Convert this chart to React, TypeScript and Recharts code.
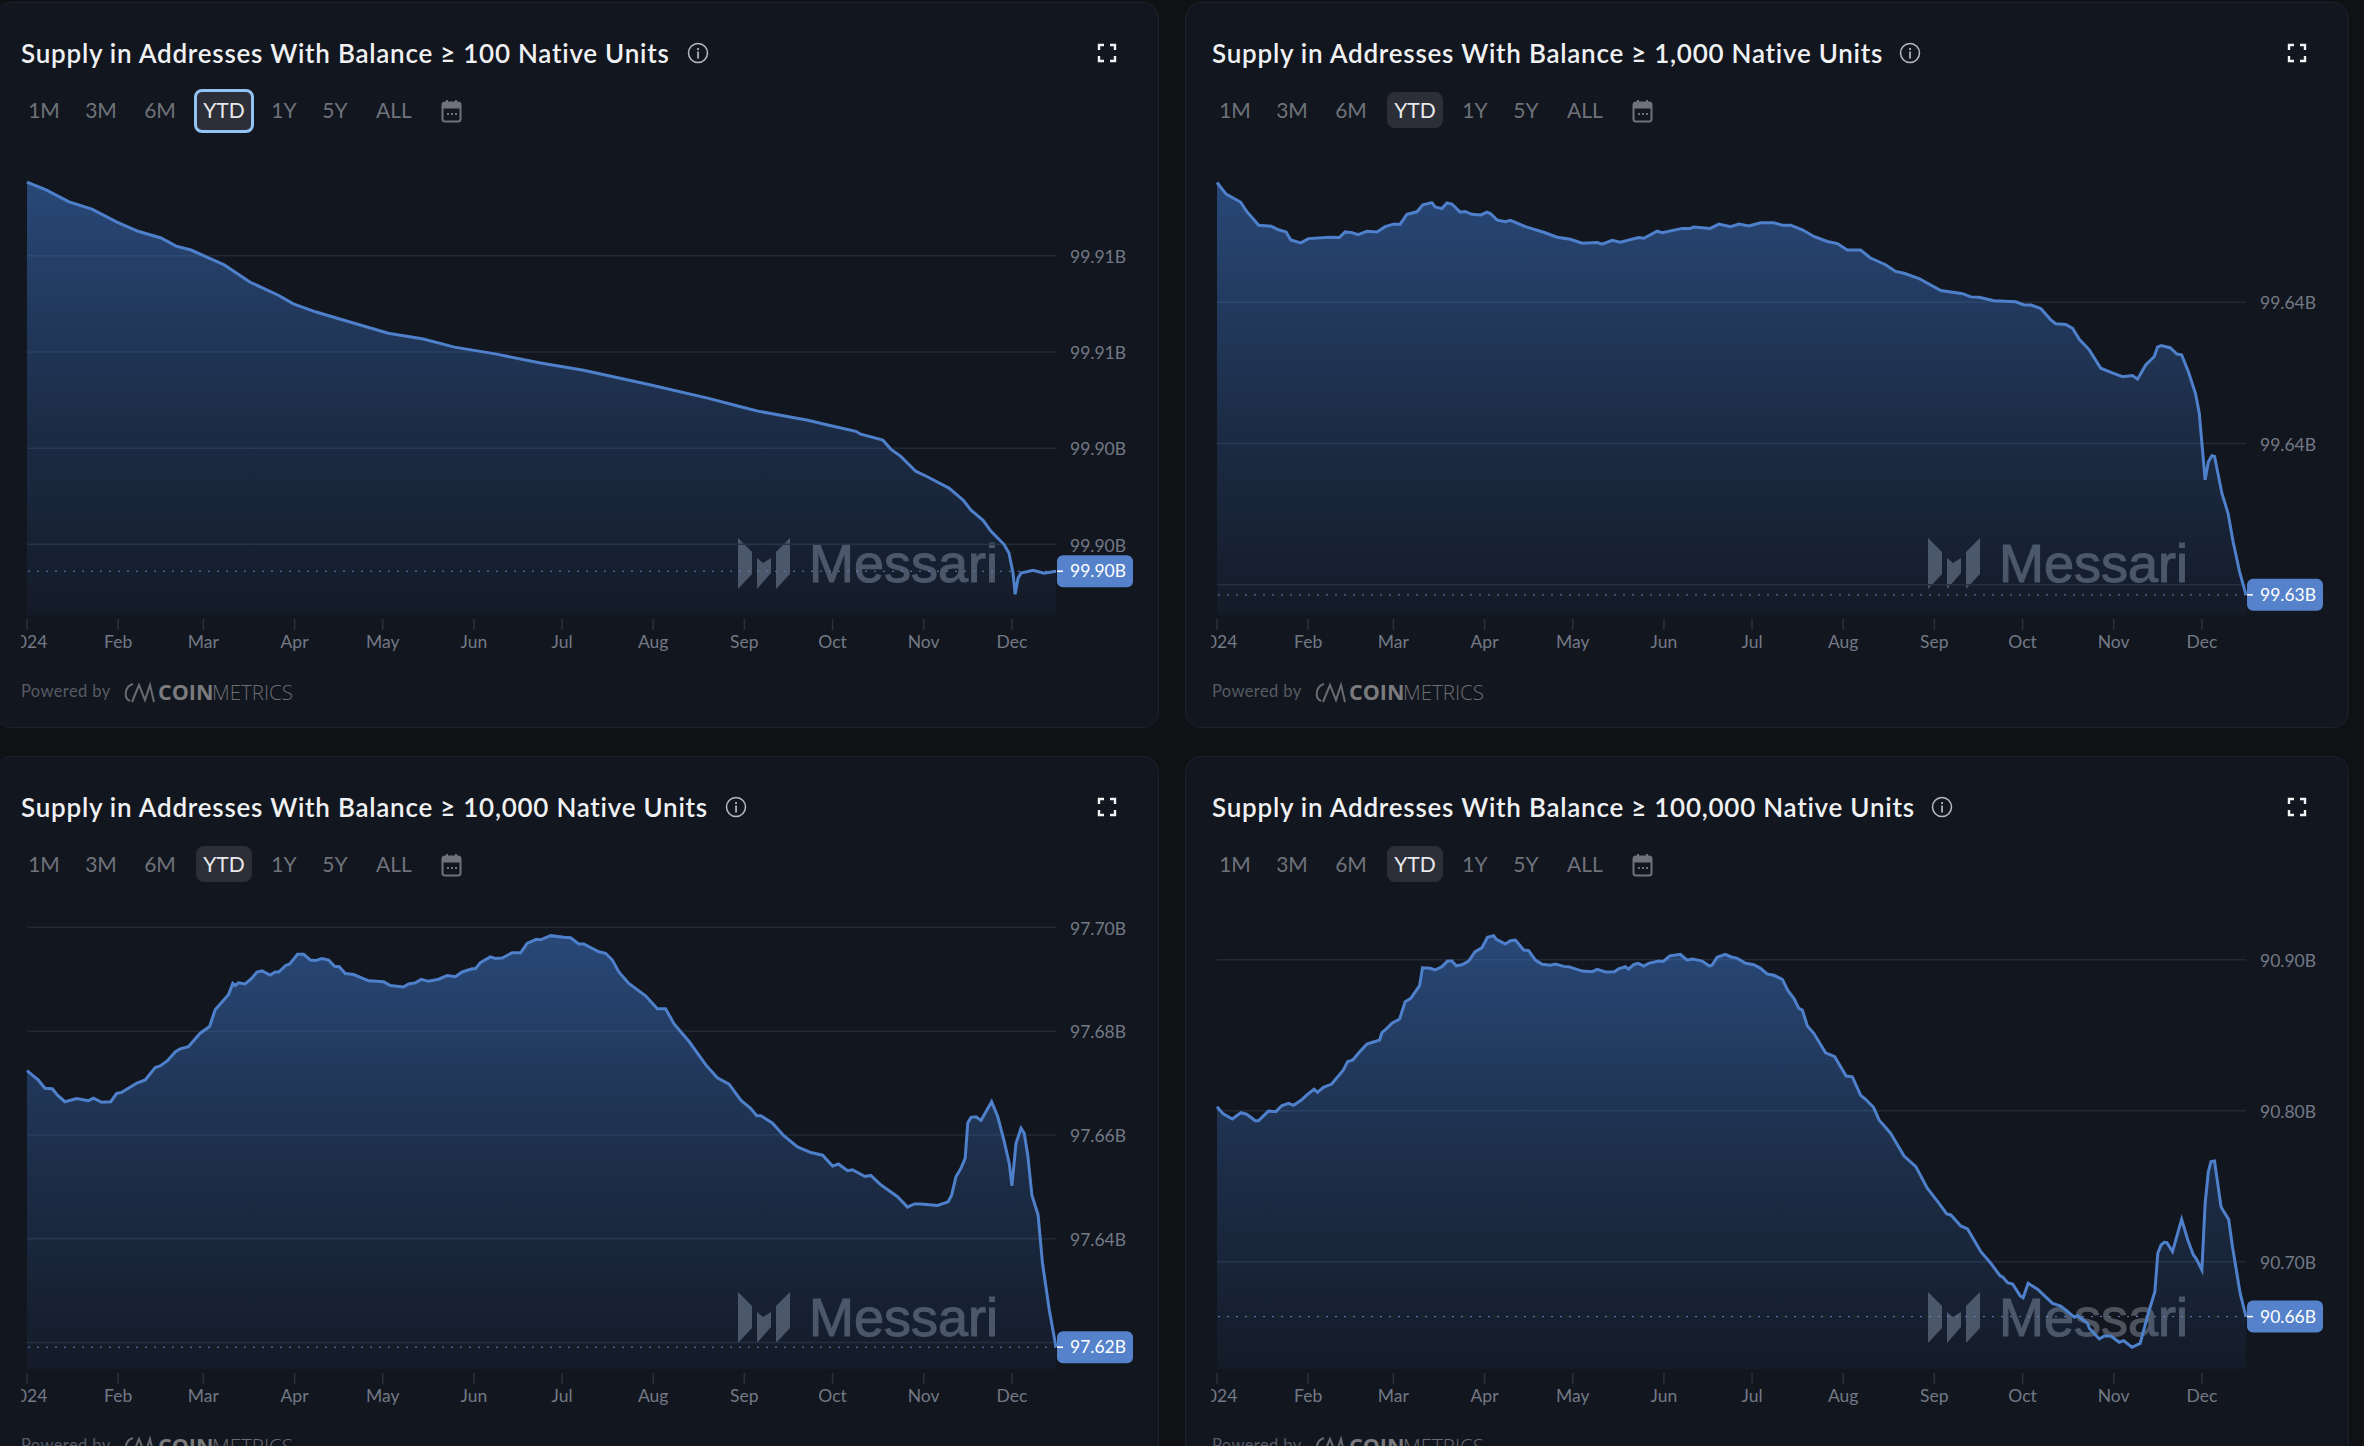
import React from 'react';
import {
  AreaChart,
  Area,
  XAxis,
  YAxis,
  CartesianGrid,
  ReferenceLine,
} from 'recharts';

const monthTicks = [0, 31, 60, 91, 121, 152, 182, 213, 244, 274, 305, 335];
const monthLabels = ['2024', 'Feb', 'Mar', 'Apr', 'May', 'Jun', 'Jul', 'Aug', 'Sep', 'Oct', 'Nov', 'Dec'];
const rangeButtons = ['1M', '3M', '6M', 'YTD', '1Y', '5Y', 'ALL'];
const rangeCenters = [44, 101, 160, 224, 284, 335, 394];

const days100 = [0, 6.5, 14.3, 22.1, 30.6, 37.8, 45.6, 50.7, 55.8, 67.1, 75.9, 85.5, 90.6, 98.4, 105.5, 122.9, 134.8, 145.4, 159.3, 174.7, 189.3, 211.1, 231.5, 242.1, 248.6, 254, 265.6, 272.4, 281.9, 283.6, 291.1, 293.8, 297.2, 302.3, 306.4, 313.6, 318.4, 321.1, 325.2, 327.9, 332.3, 334, 335.4, 336.1, 337.1, 338.1, 342.2, 345.9, 350];
const supply100 = [99.90953, 99.90937, 99.90912, 99.90897, 99.9087, 99.90851, 99.90837, 99.9082, 99.90812, 99.90781, 99.90745, 99.90718, 99.907, 99.90683, 99.9067, 99.90639, 99.90627, 99.9061, 99.90596, 99.90577, 99.90562, 99.90533, 99.90504, 99.90487, 99.90477, 99.90471, 99.90458, 99.90448, 99.90435, 99.90429, 99.90417, 99.90398, 99.90383, 99.90352, 99.9034, 99.90317, 99.90292, 99.90271, 99.9025, 99.90227, 99.902, 99.90182, 99.9014, 99.90096, 99.9013, 99.9014, 99.90146, 99.9014, 99.90144];

const days1k = [0, 3.1, 8.1, 10.1, 14.2, 18.4, 20.9, 23.5, 25.1, 28.5, 31.1, 38.4, 41.6, 43.6, 45.9, 48.1, 51, 54.4, 57.2, 60, 62.3, 64.6, 68, 70, 73.1, 74.2, 76.5, 78.2, 79.9, 82.7, 84.4, 86.7, 89.8, 91.8, 93, 95.2, 98, 99.8, 104.9, 111.1, 115.7, 120.2, 124.2, 129.3, 131, 134.4, 137.2, 143.4, 145.2, 149.7, 151.4, 158.2, 161, 162.2, 167.8, 170.7, 174.7, 177.5, 180.9, 184.9, 189.4, 192.3, 195.1, 199.1, 203, 207.6, 211, 214.4, 218.9, 222.3, 227.4, 230.8, 233.7, 238.8, 246.2, 253.6, 256.4, 259.2, 264.3, 271.7, 274.5, 276.8, 280.2, 283.6, 285.3, 288.7, 291, 293.3, 296.7, 300.6, 304.1, 308, 311.4, 313.1, 315.9, 318.8, 319.9, 321.1, 324.2, 326.5, 328.1, 330.4, 332.8, 334.1, 335.3, 336.1, 337.2, 338.4, 339.3, 341.8, 343.9, 345.6, 347.8, 350];
const supply1k = [99.64339, 99.64306, 99.64283, 99.64257, 99.64218, 99.64215, 99.64205, 99.64199, 99.64176, 99.64168, 99.6418, 99.64184, 99.64183, 99.64199, 99.64197, 99.64191, 99.64201, 99.64199, 99.64214, 99.64221, 99.64221, 99.64249, 99.64256, 99.64276, 99.64282, 99.6427, 99.64265, 99.64281, 99.64278, 99.64255, 99.64257, 99.64249, 99.64247, 99.64255, 99.64251, 99.64233, 99.64228, 99.64232, 99.64214, 99.64198, 99.64184, 99.64178, 99.64167, 99.64169, 99.64164, 99.64175, 99.6417, 99.64183, 99.64181, 99.64201, 99.64197, 99.64209, 99.64209, 99.64213, 99.64209, 99.64221, 99.64214, 99.64221, 99.64216, 99.64225, 99.64225, 99.64218, 99.64218, 99.64205, 99.64186, 99.64172, 99.64166, 99.64148, 99.64148, 99.64125, 99.64106, 99.64087, 99.64082, 99.64067, 99.64033, 99.64024, 99.64015, 99.64014, 99.64004, 99.64001, 99.63992, 99.63992, 99.63982, 99.6395, 99.63939, 99.63937, 99.63926, 99.63895, 99.63865, 99.63813, 99.63801, 99.63789, 99.63792, 99.63782, 99.63822, 99.63846, 99.63873, 99.63877, 99.63871, 99.63853, 99.63851, 99.63803, 99.63742, 99.63686, 99.63572, 99.63497, 99.63548, 99.63565, 99.63563, 99.63459, 99.63402, 99.63322, 99.63237, 99.63171];

const days10k = [0, 2.1, 3.8, 6.1, 8.6, 10.3, 12.9, 16.9, 20.9, 22.6, 25.4, 28.5, 30.5, 32.2, 37.4, 40.2, 43.6, 45.3, 47.8, 50.4, 52.1, 54.9, 58.9, 62.1, 64, 68.5, 70, 70.8, 71.9, 74.2, 76.5, 78.2, 79.9, 82.7, 84.4, 85.6, 88.1, 89.3, 92, 94.1, 96.4, 98.1, 100.3, 102.6, 104.6, 106.2, 108.3, 111.1, 116.2, 121.3, 123.6, 128.1, 129.8, 132.1, 134.1, 136.6, 140, 142.9, 145.7, 148, 151.4, 152.5, 154.2, 157.6, 159.3, 161.6, 165, 167.9, 170.1, 173.2, 174.7, 178.1, 182.6, 184.9, 187.7, 189.4, 194.5, 196.8, 199.1, 201.3, 204.7, 210.4, 214.4, 217.2, 220.1, 225.2, 230.9, 234.8, 238.8, 242.8, 246.2, 248.2, 249.6, 253.5, 257.5, 262.1, 266.6, 270.6, 274, 276, 279.1, 280.8, 285, 287, 290.4, 296.1, 299.5, 301.8, 304, 309.7, 313.3, 314.5, 316, 317.7, 319.1, 320, 321.1, 322.8, 324.5, 328.1, 330.2, 332.4, 334.1, 335, 336.4, 338.1, 339.2, 340.4, 341.8, 343.9, 345.4, 347.7, 350];
const supply10k = [97.6724, 97.6714, 97.6706, 97.669, 97.6689, 97.6677, 97.6664, 97.667, 97.6666, 97.6671, 97.6663, 97.6664, 97.668, 97.6682, 97.67, 97.6706, 97.673, 97.6733, 97.6743, 97.676, 97.6766, 97.677, 97.6796, 97.6809, 97.6841, 97.687, 97.6892, 97.6888, 97.6893, 97.6891, 97.6902, 97.6914, 97.6916, 97.6908, 97.6914, 97.6914, 97.6927, 97.6929, 97.6948, 97.6948, 97.6937, 97.6936, 97.694, 97.6937, 97.6925, 97.6924, 97.6911, 97.6909, 97.6897, 97.6895, 97.6888, 97.6885, 97.6891, 97.6893, 97.69, 97.6896, 97.69, 97.6907, 97.6905, 97.6914, 97.692, 97.692, 97.6932, 97.6943, 97.694, 97.6941, 97.6951, 97.6951, 97.6969, 97.6977, 97.6976, 97.6984, 97.6981, 97.698, 97.6968, 97.6968, 97.6953, 97.695, 97.6937, 97.6914, 97.6892, 97.6868, 97.6843, 97.6843, 97.6814, 97.678, 97.6735, 97.671, 97.6698, 97.6667, 97.6651, 97.6637, 97.6637, 97.6623, 97.6598, 97.6577, 97.6566, 97.6561, 97.654, 97.6544, 97.6531, 97.6533, 97.652, 97.6522, 97.6504, 97.6481, 97.6461, 97.6467, 97.6467, 97.6464, 97.6471, 97.6484, 97.652, 97.6536, 97.6555, 97.6623, 97.6634, 97.6635, 97.6628, 97.6664, 97.6635, 97.6587, 97.6545, 97.6502, 97.6584, 97.6613, 97.6603, 97.6561, 97.6484, 97.6446, 97.6353, 97.6263, 97.6191];

const days100k = [0, 2.1, 5.2, 8.1, 10.1, 13, 14.1, 17.5, 20, 22, 24.3, 26, 28.5, 30.5, 33, 34.2, 36.2, 39, 43, 44.4, 46.2, 48.1, 51, 53.2, 55.3, 56.1, 57.2, 59.5, 62.1, 64, 65.9, 68.9, 69.9, 72.5, 74.2, 76.5, 78.4, 79.9, 81.4, 83.3, 85.6, 87.8, 90.1, 92, 94.1, 95, 98.1, 99.8, 101.5, 104.3, 106, 108.3, 110.6, 113.4, 115.1, 117.9, 119.6, 124.2, 127.6, 129.3, 132.1, 135.2, 136.6, 138.9, 140, 141.7, 143.2, 145.2, 146.8, 150.3, 151.8, 154, 157.6, 159.9, 161.8, 165, 167.5, 168.4, 170.1, 172.9, 174.7, 177, 179.8, 182.6, 184.9, 187.2, 189.4, 192.3, 194.2, 196.2, 197.9, 199.1, 200.8, 203, 207, 210.1, 214, 216.1, 218.9, 220.6, 223.3, 225.2, 229.1, 233.7, 237.7, 241.6, 245.6, 248.2, 249.6, 253, 255.3, 259.8, 263.2, 266.4, 267.2, 268.9, 270.6, 273.2, 274.2, 275.9, 279.1, 284.2, 287, 291.6, 292.7, 296.1, 296.7, 300.1, 301.8, 304, 306.9, 308.4, 311.2, 314, 315.4, 317.1, 319, 320, 321.1, 322.2, 323.1, 325, 328.1, 330.2, 332.1, 333, 335, 336.1, 337.2, 338.1, 339.3, 341.5, 342.1, 344.1, 345.4, 348, 350];
const supply100k = [90.8027, 90.7979, 90.7945, 90.7987, 90.7977, 90.7934, 90.7934, 90.7998, 90.7994, 90.8033, 90.8049, 90.8036, 90.8067, 90.8104, 90.8142, 90.8122, 90.8155, 90.8177, 90.827, 90.8325, 90.8336, 90.838, 90.8442, 90.8455, 90.8468, 90.8517, 90.8535, 90.8579, 90.8607, 90.8722, 90.8744, 90.8828, 90.8947, 90.8943, 90.8932, 90.8954, 90.8991, 90.8991, 90.896, 90.8967, 90.8991, 90.9053, 90.9079, 90.9148, 90.9159, 90.9135, 90.9104, 90.9126, 90.913, 90.9064, 90.906, 90.8998, 90.897, 90.8963, 90.8972, 90.8956, 90.8954, 90.8925, 90.8921, 90.8936, 90.8919, 90.8921, 90.894, 90.8954, 90.8938, 90.8967, 90.8976, 90.8958, 90.8976, 90.8991, 90.8989, 90.9026, 90.9036, 90.8998, 90.9005, 90.8991, 90.8958, 90.8965, 90.9016, 90.9036, 90.902, 90.9009, 90.8976, 90.8967, 90.8943, 90.8905, 90.8897, 90.887, 90.8795, 90.8744, 90.8678, 90.8667, 90.8561, 90.8513, 90.8384, 90.8358, 90.823, 90.8225, 90.8104, 90.8076, 90.8023, 90.7939, 90.7851, 90.77, 90.763, 90.7487, 90.7387, 90.7317, 90.731, 90.7237, 90.7217, 90.7067, 90.699, 90.6906, 90.6901, 90.6862, 90.6853, 90.6774, 90.6762, 90.6858, 90.6818, 90.6725, 90.6707, 90.6633, 90.6643, 90.6593, 90.656, 90.6489, 90.6509, 90.6509, 90.6467, 90.6478, 90.6434, 90.646, 90.656, 90.6681, 90.6802, 90.7056, 90.7111, 90.7129, 90.7127, 90.7067, 90.7281, 90.7144, 90.7045, 90.7023, 90.6946, 90.7387, 90.7597, 90.7663, 90.7667, 90.7365, 90.7343, 90.7281, 90.71, 90.6792, 90.6637];

const FONT = 'Lato, sans-serif';
const LINE = '#4f80cb';

const toRows = (days: number[], values: number[]) => days.map((day, i) => ({ day, value: values[i] }));

const MonthTick = ({ x, y, index }: any) => (
  <g>
    <line x1={x} x2={x} y1={y + 4} y2={y + 15} stroke="#2b313c" strokeWidth={1.5} />
    <text x={x} y={y + 33} textAnchor="middle" fill="#737985" fontSize={17.5} fontFamily={FONT}>
      {monthLabels[index]}
    </text>
  </g>
);

const badgeFor = (text: string) => ({ viewBox }: any) => {
  const right = viewBox.x + viewBox.width;
  const y = viewBox.y;
  return (
    <g>
      <rect x={right + 1} y={y - 16} width={76} height={32} rx={6} fill="#5582cb" />
      <line x1={right + 1} x2={right + 7} y1={y} y2={y} stroke="#ffffff" strokeWidth={1.5} />
      <text x={right + 14} y={y + 6} fill="#ffffff" fontSize={17.5} fontFamily={FONT}>
        {text}
      </text>
    </g>
  );
};

const Watermark = ({ left, top }: { left: number; top: number }) => (
  <svg style={{ position: 'absolute', left, top }} width={270} height={60}>
    <g fill="#4d545f">
      <polygon points="0,0 14,14 14,36 0,51" />
      <polygon points="19,20 25,25 33,20 33,35 19,51" />
      <polygon points="52,0 52,36 38,51 38,14" />
      <text x={71} y={44} fontSize={54} fontFamily="Liberation Sans" stroke="#4d545f" strokeWidth={1.1}>
        Messari
      </text>
    </g>
  </svg>
);

const RangeBar = ({ left, top, outlined }: { left: number; top: number; outlined: boolean }) => (
  <>
    <div
      style={{
        position: 'absolute',
        left: left + (outlined ? 194 : 196),
        top: top + (outlined ? 89 : 92),
        width: outlined ? 54 : 56,
        height: outlined ? 38 : 36,
        borderRadius: 8,
        background: '#2c2f38',
        border: outlined ? '3px solid #93c3f2' : 'none',
      }}
    />
    {rangeButtons.map((b, i) => (
      <div
        key={b}
        style={{
          position: 'absolute',
          left: left + rangeCenters[i] - 40,
          width: 80,
          top: top + 96,
          height: 28,
          lineHeight: '28px',
          textAlign: 'center',
          fontFamily: FONT,
          fontSize: 21,
          color: b === 'YTD' ? '#e9e9ec' : '#6f727a',
        }}
      >
        {b}
      </div>
    ))}
    <svg style={{ position: 'absolute', left: left + 441, top: top + 99 }} width={21} height={24}>
      <rect x={1.5} y={3.5} width={18} height={19} rx={2.5} fill="none" stroke="#6f727a" strokeWidth={2} />
      <rect x={1.5} y={3.5} width={18} height={6} fill="#6f727a" />
      <rect x={5} y={1} width={2} height={4} fill="#6f727a" />
      <rect x={14} y={1} width={2} height={4} fill="#6f727a" />
      <rect x={6} y={14} width={2} height={2} fill="#6f727a" />
      <rect x={10} y={14} width={2} height={2} fill="#6f727a" />
      <rect x={14} y={14} width={2} height={2} fill="#6f727a" />
    </svg>
  </>
);

const InfoIcon = ({ x, y }: { x: number; y: number }) => (
  <svg style={{ position: 'absolute', left: x - 11, top: y - 11 }} width={22} height={22}>
    <circle cx={11} cy={11} r={9.5} fill="none" stroke="#b9bbc0" strokeWidth={1.5} />
    <rect x={10.2} y={9.5} width={1.7} height={7} fill="#b9bbc0" />
    <rect x={10.2} y={6} width={1.7} height={2} fill="#b9bbc0" />
  </svg>
);

const ExpandIcon = ({ x, y }: { x: number; y: number }) => (
  <svg style={{ position: 'absolute', left: x - 10, top: y - 10 }} width={20} height={20}>
    <path
      d="M2 7V2H7M13 2H18V7M18 13V18H13M7 18H2V13"
      fill="none"
      stroke="#f1f2f4"
      strokeWidth={2.4}
    />
  </svg>
);

const PoweredBy = ({ left, top }: { left: number; top: number }) => (
  <>
    <div
      style={{
        position: 'absolute',
        left: left + 21,
        top: top + 681,
        fontFamily: FONT,
        fontSize: 16.5,
        letterSpacing: 0.4,
        color: '#575b64',
        whiteSpace: 'nowrap',
      }}
    >
      Powered by
    </div>
    <svg style={{ position: 'absolute', left: left + 122, top: top + 680 }} width={180} height={26}>
      <g fill="none" stroke="#6a6b6e" strokeWidth={2}>
        <path d="M11 4C3 6 1 18 8 21" />
        <path d="M10 22L17 5L23 20L28 5L32 22" />
      </g>
      <text x={36} y={20} fontSize={21.5} fontFamily="Open Sans" fontWeight={700} fill="#7b7b7d">
        COIN
      </text>
      <text x={90} y={20} fontSize={20.5} fontFamily="Open Sans" fontWeight={300} fill="#6c6d70">
        METRICS
      </text>
    </svg>
  </>
);

interface PanelProps {
  threshold: string;
  days: number[];
  values: number[];
  ticks: number[];
  hiddenTick?: number;
  domain: [number, number];
  col: number;
  row: number;
  infoX: number;
  outlined?: boolean;
}

const Panel = ({ threshold, days, values, ticks, hiddenTick, domain, col, row, infoX, outlined = false }: PanelProps) => {
  const left = col * 1190;
  const top = row * 754;
  const headLeft = left + col;
  const gradId = `fill-${col}-${row}`;
  const rows = toRows(days, values);
  const last = values[values.length - 1];
  return (
    <>
      <div
        style={{
          position: 'absolute',
          left: left - 5,
          top: top + 2,
          width: 1162,
          height: 724,
          borderRadius: 16,
          background: '#12161f',
          border: '1px solid #1c212b',
        }}
      />
      <div
        style={{
          position: 'absolute',
          left: headLeft + 21,
          top: top + 36,
          height: 34,
          lineHeight: '34px',
          fontFamily: FONT,
          fontWeight: 600,
          fontSize: 26,
          letterSpacing: 0.75,
          color: '#f0f1f3',
          whiteSpace: 'nowrap',
        }}
      >
        {`Supply in Addresses With Balance ≥ ${threshold} Native Units`}
      </div>
      <InfoIcon x={infoX} y={top + 53} />
      <ExpandIcon x={left + 1107} y={top + 53} />
      <RangeBar left={headLeft} top={top} outlined={outlined} />
      <Watermark left={left + 738} top={top + 538} />
      <div style={{ position: 'absolute', left: left + 21, top: top + 140 }}>
        <AreaChart width={1124} height={520} data={rows} margin={{ top: 10, right: 0, bottom: 0, left: 6 }}>
          <defs>
            <linearGradient id={gradId} x1="0" y1="0" x2="0" y2="1">
              <stop offset="0%" stopColor="#3f7ad0" stopOpacity={0.5} />
              <stop offset="56%" stopColor="#3f7ad0" stopOpacity={0.22} />
              <stop offset="100%" stopColor="#3f7ad0" stopOpacity={0.05} />
            </linearGradient>
          </defs>
          <CartesianGrid vertical={false} stroke="#222936" strokeWidth={1.5} horizontalValues={ticks} />
          <XAxis
            dataKey="day"
            type="number"
            domain={[0, 350]}
            ticks={monthTicks}
            interval={0}
            height={45}
            axisLine={false}
            tickLine={false}
            tickSize={0}
            tickMargin={0}
            tick={<MonthTick />}
          />
          <YAxis
            orientation="right"
            type="number"
            domain={domain}
            ticks={ticks}
            interval={0}
            width={89}
            allowDataOverflow
            axisLine={false}
            tickLine={false}
            tickSize={0}
            tickMargin={14}
            dy={1}
            tick={{ fill: '#737985', fontSize: 17.5, fontFamily: FONT, textAnchor: 'start' }}
            tickFormatter={(v: number) => (v === hiddenTick ? '' : `${v.toFixed(2)}B`)}
          />
          <Area
            dataKey="value"
            type="linear"
            stroke={LINE}
            strokeWidth={3}
            fill={`url(#${gradId})`}
            fillOpacity={1}
            isAnimationActive={false}
            dot={false}
            activeDot={false}
          />
          <ReferenceLine
            y={last}
            stroke="#5d84c4"
            strokeDasharray="2 7"
            strokeWidth={1}
            label={badgeFor(`${last.toFixed(2)}B`)}
          />
        </AreaChart>
      </div>
      <PoweredBy left={headLeft} top={top} />
    </>
  );
};

const App = () => (
  <div
    style={{
      position: 'absolute',
      left: 0,
      top: 0,
      width: 2364,
      height: 1446,
      overflow: 'hidden',
      background: '#0f1115',
    }}
  >
    <Panel
      threshold="100"
      days={days100}
      values={supply100}
      ticks={[99.908, 99.906, 99.904, 99.902]}
      domain={[99.90053, 99.9102]}
      col={0}
      row={0}
      infoX={698}
      outlined
    />
    <Panel
      threshold="1,000"
      days={days1k}
      values={supply1k}
      ticks={[99.64, 99.636, 99.632]}
      hiddenTick={99.632}
      domain={[99.63114, 99.64431]}
      col={1}
      row={0}
      infoX={1910}
    />
    <Panel
      threshold="10,000"
      days={days10k}
      values={supply10k}
      ticks={[97.7, 97.68, 97.66, 97.64, 97.62]}
      hiddenTick={97.62}
      domain={[97.6149, 97.7045]}
      col={0}
      row={1}
      infoX={736}
    />
    <Panel
      threshold="100,000"
      days={days100k}
      values={supply100k}
      ticks={[90.9, 90.8, 90.7]}
      domain={[90.629, 90.9369]}
      col={1}
      row={1}
      infoX={1942}
    />
  </div>
);

export default App;
